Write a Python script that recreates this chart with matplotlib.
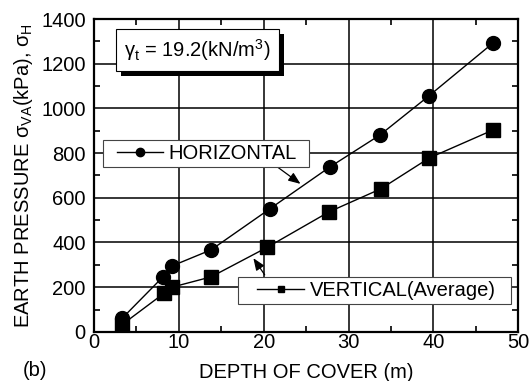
import matplotlib
matplotlib.use("Agg")
import matplotlib.pyplot as plt
import matplotlib.patheffects as pe
from matplotlib.lines import Line2D
from matplotlib.legend_handler import HandlerLine2D

plt.rcParams.update({
    "font.family": ["Liberation Sans", "DejaVu Sans"],
    "font.size": 14.5,
    "mathtext.fontset": "custom",
    "mathtext.rm": "Liberation Sans",
    "mathtext.it": "Liberation Sans:italic",
})

# Profondeur (m) et pressions (kPa)
depth_h = [3.3, 8.1, 9.2, 13.8, 20.7, 27.8, 33.7, 39.5, 47.0]
sigma_h = [60, 245, 295, 367, 550, 738, 881, 1057, 1292]

depth_v = [3.3, 8.3, 9.2, 13.8, 20.4, 27.7, 33.8, 39.5, 47.0]
sigma_v = [32, 174, 200, 246, 378, 537, 640, 778, 903]

x_ticks = [0, 10, 20, 30, 40, 50]
y_ticks = [0, 200, 400, 600, 800, 1000, 1200, 1400]

fig = plt.figure(figsize=(5.31, 3.81), dpi=100)
ax = fig.add_axes([0.177, 0.129, 0.799, 0.821])

line_h, = ax.plot(depth_h, sigma_h, "o-", color="k", lw=1.0, ms=10,
                  label="HORIZONTAL")
line_v, = ax.plot(depth_v, sigma_v, "s-", color="k", lw=1.0, ms=9.5,
                  label="VERTICAL(Average)")

ax.set_xlim(0, 50)
ax.set_ylim(0, 1400)
ax.set_xticks(x_ticks)
ax.set_yticks(y_ticks)
ax.set_xticks([5, 15, 25, 35, 45], minor=True)
ax.set_yticks([100, 300, 500, 700, 900, 1100, 1300], minor=True)
ax.tick_params(which="both", direction="in", top=True, right=True,
               width=1.2, color="k")
ax.tick_params(which="major", length=0)
ax.tick_params(axis="x", which="major", pad=1)
ax.tick_params(axis="y", which="major", pad=6)
ax.tick_params(which="minor", length=4)
ax.grid(True, which="major", color="k", lw=1.1)
for sp in ax.spines.values():
    sp.set_linewidth(1.6)

ax.set_xlabel("DEPTH OF COVER (m)", labelpad=8)
ax.set_ylabel(r"EARTH PRESSURE σ$_\mathregular{VA}$(kPa), σ$_\mathregular{H}$",
              labelpad=4)

# ── Légendes séparées (boîtes élargies) ──
h_handle = Line2D([], [], color="k", lw=1.0, marker="o", ms=6)
v_handle = Line2D([], [], color="k", lw=1.0, marker="s", ms=5)
kw = dict(frameon=True, fancybox=False, edgecolor="#444444", framealpha=1,
          borderpad=0.2, borderaxespad=0, fontsize=14.5,
          loc="upper left", mode="expand")
leg1 = ax.legend([h_handle], ["HORIZONTAL"],
                 bbox_to_anchor=(0.021, 0.537, 0.486, 0.076),
                 handlelength=2.8, handletextpad=0.25,
                 handler_map={h_handle: HandlerLine2D(xpad=0.5)}, **kw)
leg1.get_frame().set_linewidth(0.8)
ax.add_artist(leg1)
leg2 = ax.legend([v_handle], ["VERTICAL(Average)"],
                 bbox_to_anchor=(0.340, 0.099, 0.643, 0.077),
                 handlelength=3.05, handletextpad=0.3,
                 handler_map={v_handle: HandlerLine2D(xpad=0.75)}, **kw)
leg2.get_frame().set_linewidth(0.8)

# ── Flèches ──
arrow = dict(arrowstyle="-|>,head_length=0.5,head_width=0.2", color="k", lw=0.9)
ax.annotate("", xy=(24.6, 655), xytext=(21.0, 755), arrowprops=arrow)
ax.annotate("", xy=(18.6, 340), xytext=(20.3, 245), arrowprops=arrow)

# ── Poids volumique ──
t = ax.text(0.071, 0.9, r"γ$_\mathregular{t}$ = 19.2(kN/m$^\mathregular{3}$)",
            transform=ax.transAxes, ha="left", va="center",
            bbox=dict(boxstyle="square,pad=0.4", fc="white", ec="k", lw=0.8))
t.get_bbox_patch().set_path_effects([
    pe.SimplePatchShadow(offset=(3.6, -3.6), shadow_rgbFace="k", alpha=1),
    pe.Normal()])

fig.text(0.042, 0.003, "(b)", ha="left", va="bottom")

fig.savefig("out.png", dpi=100)
